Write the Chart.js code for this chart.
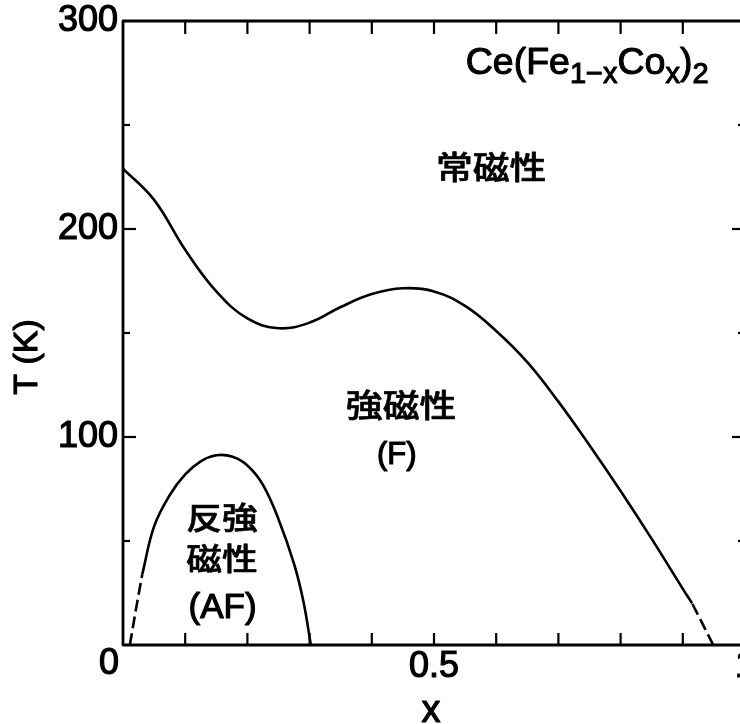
<!DOCTYPE html>
<html>
<head>
<meta charset="utf-8">
<script src="https://cdn.jsdelivr.net/npm/chart.js@4.4.1/dist/chart.umd.min.js"></script>
<style>
  html, body { margin: 0; padding: 0; background: #fff; overflow: hidden; }
  #wrap { width: 740px; height: 724px; overflow: hidden; position: relative; }
  canvas { display: block; }
</style>
</head>
<body>
<div id="wrap"><canvas id="phase" width="760" height="724"></canvas></div>
<script>
// Magnetic phase diagram of Ce(Fe1-xCox)2: T (K) against Co content x.

// Ferro/para boundary (Curie temperature), solid part
const tcX = [0, 0.05, 0.10, 0.15, 0.20, 0.25, 0.30, 0.35, 0.40, 0.45, 0.50, 0.55, 0.60, 0.65, 0.70, 0.75, 0.80, 0.85, 0.90, 0.915];
const tcT = [229, 214, 190, 170, 157, 152.3, 155, 162.5, 168.7, 171.5, 170, 163, 151, 136, 117, 96, 74, 51, 27, 20];
// Extrapolated (dashed) end of the Curie line, drawn from the axis upward
const tcTailX = [0.949, 0.932, 0.915];
const tcTailT = [0, 10, 20];

// Antiferromagnetic dome (Neel temperature), solid part
const afX = [0.031, 0.05, 0.075, 0.10, 0.125, 0.15, 0.175, 0.20, 0.225, 0.25, 0.275, 0.29, 0.302];
const afT = [34, 57, 72, 82, 88.3, 91.2, 90.6, 86.3, 77, 60.5, 39, 21, 0];
// Extrapolated (dashed) low-x side of the dome
const afTailX = [0.011, 0.021, 0.031];
const afTailT = [0, 17.5, 34];

// Axis ticks and labels
const xTickValues = [0.1, 0.2, 0.3, 0.4, 0.5, 0.6, 0.7, 0.8, 0.9];
const xLabeled = [0.5, 1];
const yMajor = [100, 200];
const yMinor = [50, 150, 250];
const yLabeled = [100, 200, 300];

const LATIN = '"Liberation Sans", Arial, Helvetica, sans-serif';
const CJK = '"Noto Sans CJK JP", "Noto Sans CJK SC", sans-serif';

const pts = (xs, ys) => xs.map((x, i) => ({ x, y: ys[i] }));

const lineStyle = {
  borderColor: '#000', borderWidth: 2.6, pointRadius: 0, fill: false
};

// Frame, inward ticks and text annotations
const decorations = {
  id: 'decorations',
  afterDraw(chart) {
    const { ctx, chartArea: a, scales: { x, y } } = chart;
    ctx.save();
    ctx.strokeStyle = '#000';
    ctx.fillStyle = '#000';
    ctx.lineCap = 'butt';
    ctx.lineJoin = 'round';

    const seg = (x1, y1, x2, y2) => { ctx.beginPath(); ctx.moveTo(x1, y1); ctx.lineTo(x2, y2); ctx.stroke(); };

    ctx.lineWidth = 2.2;
    xTickValues.forEach(v => {
      const px = x.getPixelForValue(v);
      seg(px, a.bottom, px, a.bottom - 12);
      seg(px, a.top, px, a.top + 13);
    });
    yMajor.forEach(v => {
      const py = y.getPixelForValue(v);
      seg(a.left, py, a.left + 13, py);
      seg(a.right, py, a.right - 13, py);
    });
    yMinor.forEach(v => {
      const py = y.getPixelForValue(v);
      seg(a.left, py, a.left + 7, py);
      seg(a.right, py, a.right - 7, py);
    });

    ctx.lineWidth = 2.8;
    ctx.strokeRect(a.left, a.top, a.right - a.left, a.bottom - a.top);

    const latin = (txt, px, py, size, align, base) => {
      ctx.font = `${size}px ${LATIN}`;
      ctx.textAlign = align || 'center';
      ctx.textBaseline = base || 'middle';
      ctx.lineWidth = 1.2;
      ctx.fillText(txt, px, py);
      ctx.strokeText(txt, px, py);
    };
    const cjk = (txt, xv, tv, size) => {
      ctx.save();
      ctx.translate(x.getPixelForValue(xv), y.getPixelForValue(tv));
      ctx.scale(1.15, 1);
      ctx.font = `500 ${size}px ${CJK}`;
      ctx.textAlign = 'center';
      ctx.textBaseline = 'middle';
      ctx.lineWidth = 0.6;
      ctx.fillText(txt, 0, 0);
      ctx.strokeText(txt, 0, 0);
      ctx.restore();
    };

    // corner "0" of the x axis
    latin('0', x.getPixelForValue(0) - 14, a.bottom + 19, 36);

    // axis titles
    latin('x', (a.left + a.right) / 2 - 3, 722, 38, 'center', 'alphabetic');
    ctx.save();
    ctx.translate(37, y.getPixelForValue(138.5));
    ctx.rotate(-Math.PI / 2);
    latin('T (K)', 0, 0, 34, 'center', 'alphabetic');
    ctx.restore();

    // phase labels
    cjk('常磁性', 0.592, 229.8, 32);
    cjk('強磁性', 0.447, 115.4, 32);
    latin('(F)', x.getPixelForValue(0.44), y.getPixelForValue(90.9), 31);
    cjk('反強', 0.159, 61.3, 31);
    cjk('磁性', 0.159, 41.6, 31);
    latin('(AF)', x.getPixelForValue(0.16), y.getPixelForValue(17.8), 35);

    // compound formula with subscripts
    const parts = [['Ce(Fe', 0], ['1\u2212x', 1], ['Co', 0], ['x', 1], [')', 0], ['2', 1]];
    let cx = x.getPixelForValue(0.551);
    const base = y.getPixelForValue(274.5);
    ctx.textAlign = 'left';
    ctx.textBaseline = 'alphabetic';
    ctx.lineWidth = 1.1;
    parts.forEach(([t, sub]) => {
      ctx.font = `${sub ? 29 : 37.5}px ${LATIN}`;
      const by = base + (sub ? 9 : 0);
      ctx.fillText(t, cx, by);
      ctx.strokeText(t, cx, by);
      cx += ctx.measureText(t).width;
    });

    ctx.restore();
  }
};

new Chart(document.getElementById('phase'), {
  type: 'line',
  data: {
    datasets: [
      { ...lineStyle, data: pts(tcX, tcT), tension: 0.4 },
      { ...lineStyle, data: pts(tcTailX, tcTailT), tension: 0, borderDash: [12, 5] },
      { ...lineStyle, data: pts(afX, afT), tension: 0.4 },
      { ...lineStyle, data: pts(afTailX, afTailT), tension: 0, borderDash: [12, 5] }
    ]
  },
  options: {
    responsive: false,
    animation: false,
    devicePixelRatio: 1,
    layout: { padding: { top: 21, right: 15, left: 0, bottom: 0 } },
    plugins: { legend: { display: false }, tooltip: { enabled: false } },
    scales: {
      x: {
        type: 'linear', min: 0, max: 1,
        grid: { display: false, drawTicks: false },
        border: { display: false },
        ticks: {
          stepSize: 0.1, autoSkip: false, maxRotation: 0, padding: 0,
          color: '#000', font: { family: LATIN, size: 36 },
          textStrokeColor: '#000', textStrokeWidth: 1.2,
          callback: v => xLabeled.some(l => Math.abs(l - v) < 1e-6) ? String(Math.round(v * 10) / 10) : ''
        },
        afterFit(s) { s.height = 79; s.paddingLeft = 0; s.paddingRight = 0; }
      },
      y: {
        min: 0, max: 300,
        grid: { display: false, drawTicks: false },
        border: { display: false },
        ticks: {
          stepSize: 50, autoSkip: false, padding: 5,
          color: '#000', font: { family: LATIN, size: 36 },
          textStrokeColor: '#000', textStrokeWidth: 1.2,
          callback: v => yLabeled.includes(v) ? String(v) : ''
        },
        afterFit(s) { s.width = 123; s.paddingTop = 0; s.paddingBottom = 0; }
      }
    }
  },
  plugins: [decorations]
});
</script>
</body>
</html>
